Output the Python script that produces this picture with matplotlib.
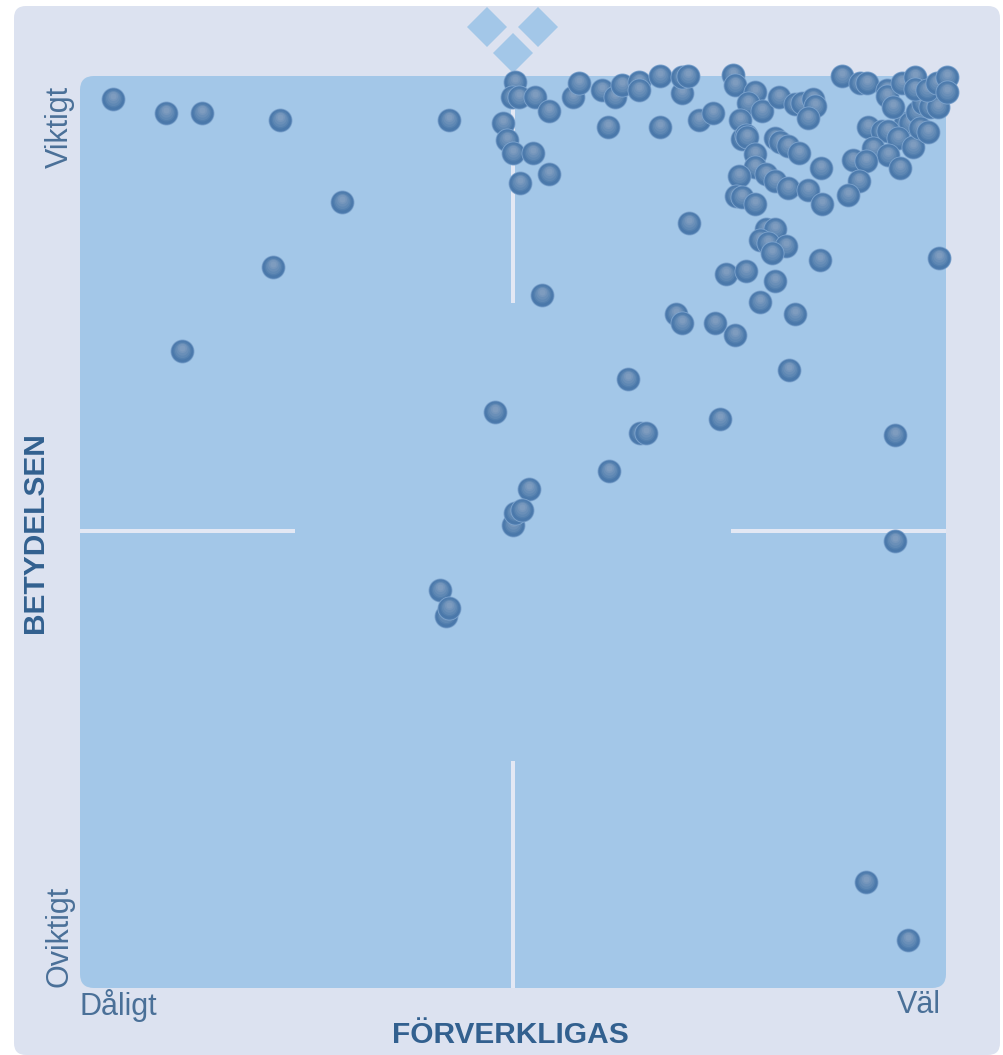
import matplotlib
matplotlib.use("Agg")
import matplotlib.pyplot as plt
from matplotlib.patches import FancyBboxPatch, Polygon

# avlästa värden (skala = bildens pixlar)
forverkligas = [113, 166, 202, 280, 449, 342, 273, 182, 542, 495, 628, 640, 646, 609, 529, 513, 515, 522,
                440, 446, 449, 720, 895, 895, 866, 908, 789, 735, 715, 676, 682, 795, 760, 775, 726, 746,
                820, 939, 689, 766, 775, 760, 768, 786, 772,
                515, 512, 519, 535, 549, 503, 507, 513, 533, 549, 520,
                573, 579, 602, 615, 622, 639, 639, 660, 682, 682, 688, 608, 660, 699, 713,
                733, 735, 755, 748, 762, 740, 742, 746, 747, 755, 755, 739, 736, 742, 755, 766, 775, 788,
                808, 822, 821, 775, 780, 788, 799, 779, 795, 802, 813, 815, 808,
                925, 932, 905, 910, 917, 923, 930, 938,
                842, 860, 867, 887, 887, 893, 902, 915, 915, 927, 937, 947, 947,
                868, 882, 888, 898, 873, 888, 913, 920, 928, 900, 853, 866, 859, 848]
betydelsen = [99, 113, 113, 120, 120, 202, 267, 351, 295, 412, 379, 433, 433, 471, 489, 525, 513, 510,
              590, 616, 608, 419, 435, 541, 882, 940, 370, 335, 323, 314, 323, 314, 302, 281, 274, 271,
              260, 258, 223, 229, 229, 240, 243, 246, 253,
              82, 97, 97, 97, 111, 123, 140, 153, 153, 174, 183,
              97, 83, 90, 97, 85, 82, 90, 76, 93, 77, 76, 127, 127, 120, 113,
              75, 85, 92, 103, 111, 120, 139, 135, 137, 154, 167, 176, 196, 197, 204, 174, 181, 188,
              190, 204, 168, 138, 142, 146, 153, 97, 104, 103, 99, 106, 118,
              100, 105, 123, 123, 112, 103, 107, 107,
              76, 83, 83, 90, 96, 107, 83, 77, 89, 90, 83, 77, 92,
              127, 131, 131, 138, 148, 155, 147, 128, 132, 168, 160, 161, 181, 195]

x_labels = ["Dåligt", "Väl"]
y_labels = ["Oviktigt", "Viktigt"]
x_title = "FÖRVERKLIGAS"
y_title = "BETYDELSEN"

BG = "#DCE2F0"
PLOT = "#A3C7E8"
TEXT = "#4A7098"
TITLE = "#32608F"
LINE = "#E3E8F4"

fig = plt.figure(figsize=(10.04, 10.55), dpi=100, facecolor="white")

# bakgrund, diamanter, kors
deco = fig.add_axes([0, 0, 1, 1])
deco.set_xlim(0, 1004)
deco.set_ylim(1055, 0)
deco.axis("off")
deco.add_patch(FancyBboxPatch((14, 6), 986, 1049, boxstyle="round,pad=0,rounding_size=12",
                              fc=BG, ec="none"))
deco.add_patch(FancyBboxPatch((88, 84), 850, 896, boxstyle="round,pad=8,rounding_size=14",
                              fc=PLOT, ec="none"))
for cx, cy in [(487, 27), (538, 27), (513, 53)]:
    deco.add_patch(Polygon([(cx - 20, cy), (cx, cy - 20), (cx + 20, cy), (cx, cy + 20)], fc=PLOT, ec="none"))
for xs, ys in [([513, 513], [76, 303]), ([513, 513], [761, 988]),
               ([80, 295], [531, 531]), ([731, 946], [531, 531])]:
    deco.plot(xs, ys, color=LINE, lw=2.9, solid_capstyle="butt")

font = ["Liberation Sans Narrow", "Liberation Sans"]
deco.text(80, 1005, x_labels[0], fontsize=22, color=TEXT, family=font, ha="left", va="center")
deco.text(941, 1005, x_labels[1], fontsize=22, color=TEXT, family=font, ha="right", va="center")
deco.text(60, 987, y_labels[0], fontsize=22, color=TEXT, family=font, rotation=90, ha="center", va="bottom")
deco.text(60, 168, y_labels[1], fontsize=22, color=TEXT, family=font, rotation=90, ha="center", va="bottom")
deco.text(510, 1035, x_title, fontsize=21.5, color=TITLE, family=font, weight="bold", ha="center", va="center")
deco.text(35, 533, y_title, fontsize=21.5, color=TITLE, family=font, weight="bold", rotation=90,
          ha="center", va="center")

# punkter
ax = fig.add_axes([80 / 1004, 1 - 988 / 1055, 866 / 1004, 912 / 1055], zorder=2)
ax.patch.set_alpha(0)
ax.axis("off")
ax.set_xlim(80, 946)
ax.set_ylim(988, 76)

# klotet byggs av lager, från mörk kant till ljus topp
layers = [(0.0, 12.0, "#7FA5CE"), (0.0, 11.2, "#4F7DB0"), (0.2, 10.2, "#4A78AA"), (-0.6, 9.0, "#5480AF"),
          (-1.2, 7.6, "#5F88B4"), (-1.9, 6.2, "#6A8FB8"), (-2.6, 4.6, "#7596BC"), (-3.2, 3.0, "#7E9CBF")]
z = 3
for px, py in zip(forverkligas, betydelsen):
    for dy, r, col in layers:
        d = 2 * r * 0.72
        ax.scatter(px, py + dy, s=d * d, color=col, linewidths=0, clip_on=False, zorder=z)
        z += 1

fig.savefig("out.png", dpi=100, facecolor="white")
